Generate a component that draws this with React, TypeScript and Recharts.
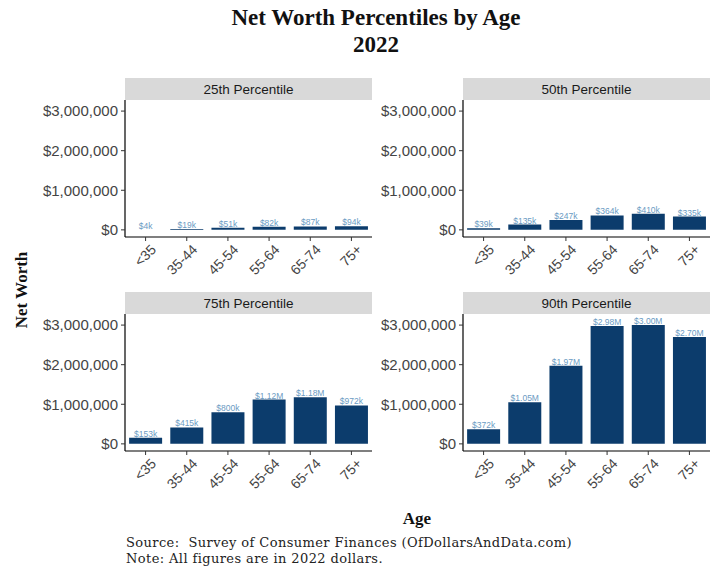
import React from 'react'
import { BarChart, Bar, XAxis, YAxis, LabelList } from 'recharts'

const ageGroups = ['<35', '35-44', '45-54', '55-64', '65-74', '75+']

const p25Values = [4000, 19000, 51000, 82000, 87000, 94000]
const p25Labels = ['$4k', '$19k', '$51k', '$82k', '$87k', '$94k']

const p50Values = [39000, 135000, 247000, 364000, 410000, 335000]
const p50Labels = ['$39k', '$135k', '$247k', '$364k', '$410k', '$335k']

const p75Values = [153000, 415000, 800000, 1120000, 1180000, 972000]
const p75Labels = ['$153k', '$415k', '$800k', '$1.12M', '$1.18M', '$972k']

const p90Values = [372000, 1050000, 1970000, 2980000, 3000000, 2700000]
const p90Labels = ['$372k', '$1.05M', '$1.97M', '$2.98M', '$3.00M', '$2.70M']

const yTicks = [0, 1000000, 2000000, 3000000]

const SANS = '"Liberation Sans", Arial, sans-serif'
const SERIF = '"Liberation Serif", "DejaVu Serif", serif'
const WIDE_SERIF = '"DejaVu Serif", serif'
const BAR = '#0c3c6c'

const money = (v: number) => `$${v.toLocaleString('en-US')}`

const AgeTick = ({ x, y, payload }: any) => (
  <text
    x={x + 4}
    y={y}
    transform={`rotate(-45 ${x + 4} ${y})`}
    textAnchor="end"
    dy="0.75em"
    fontSize={14}
    fontFamily={SANS}
    fill="#444"
  >
    {payload.value}
  </text>
)

const Panel = ({ title, values, labels, left, top }: any) => {
  const data = ageGroups.map((age, i) => ({ age, value: values[i], label: labels[i] }))
  return (
    <>
      <div
        style={{
          position: 'absolute', left: left + 125, top: top - 22, width: 247, height: 22,
          background: '#d9d9d9', fontFamily: SANS, fontSize: 13.5, color: '#1a1a1a',
          display: 'flex', alignItems: 'center', justifyContent: 'center',
        }}
      >
        {title}
      </div>
      <div style={{ position: 'absolute', left, top }}>
        <BarChart
          width={372}
          height={182}
          data={data}
          margin={{ top: 0, right: 0, bottom: 0, left: 0 }}
          barCategoryGap="10%"
        >
          <XAxis
            dataKey="age"
            height={45}
            tick={<AgeTick />}
            tickSize={4}
            axisLine={{ stroke: '#000', strokeWidth: 1.2 }}
            tickLine={{ stroke: '#333' }}
            interval={0}
          />
          <YAxis
            width={125}
            domain={[-180000, 3280000]}
            ticks={yTicks}
            allowDataOverflow
            tickFormatter={money}
            tick={{ fontSize: 15, fontFamily: SANS, fill: '#444' }}
            tickSize={4}
            tickMargin={3}
            axisLine={{ stroke: '#000', strokeWidth: 1.2 }}
            tickLine={{ stroke: '#333' }}
          />
          <Bar dataKey="value" fill={BAR} isAnimationActive={false}>
            <LabelList
              dataKey="label"
              position="top"
              offset={1}
              fontSize={8.5}
              fontFamily={SANS}
              fill="#6b9bc3"
            />
          </Bar>
        </BarChart>
      </div>
    </>
  )
}

export default function App() {
  return (
    <div style={{ position: 'absolute', left: 0, top: 0, width: 720, height: 576, background: '#fff', overflow: 'hidden' }}>
      <div
        style={{
          position: 'absolute', left: 0, width: 752, top: 4, textAlign: 'center',
          fontFamily: SERIF, fontWeight: 'bold', fontSize: 23, lineHeight: '27px', color: '#111',
        }}
      >
        Net Worth Percentiles by Age
        <br />
        2022
      </div>

      <Panel title="25th Percentile" values={p25Values} labels={p25Labels} left={0} top={100} />
      <Panel title="50th Percentile" values={p50Values} labels={p50Labels} left={338} top={100} />
      <Panel title="75th Percentile" values={p75Values} labels={p75Labels} left={0} top={314} />
      <Panel title="90th Percentile" values={p90Values} labels={p90Labels} left={338} top={314} />

      <div
        style={{
          position: 'absolute', left: 22, top: 290, transform: 'translate(-50%, -50%) rotate(-90deg)',
          fontFamily: SERIF, fontWeight: 'bold', fontSize: 17, color: '#111', whiteSpace: 'nowrap',
        }}
      >
        Net Worth
      </div>
      <div
        style={{
          position: 'absolute', left: 417, top: 519, transform: 'translate(-50%, -50%)',
          fontFamily: SERIF, fontWeight: 'bold', fontSize: 17, color: '#111',
        }}
      >
        Age
      </div>
      <div
        style={{
          position: 'absolute', left: 126, top: 535, fontFamily: WIDE_SERIF, fontSize: 13,
          letterSpacing: 0.4, lineHeight: '16px', color: '#222', whiteSpace: 'nowrap',
        }}
      >
        Source:&nbsp; Survey of Consumer Finances (OfDollarsAndData.com)
        <br />
        Note: All figures are in 2022 dollars.
      </div>
    </div>
  )
}
